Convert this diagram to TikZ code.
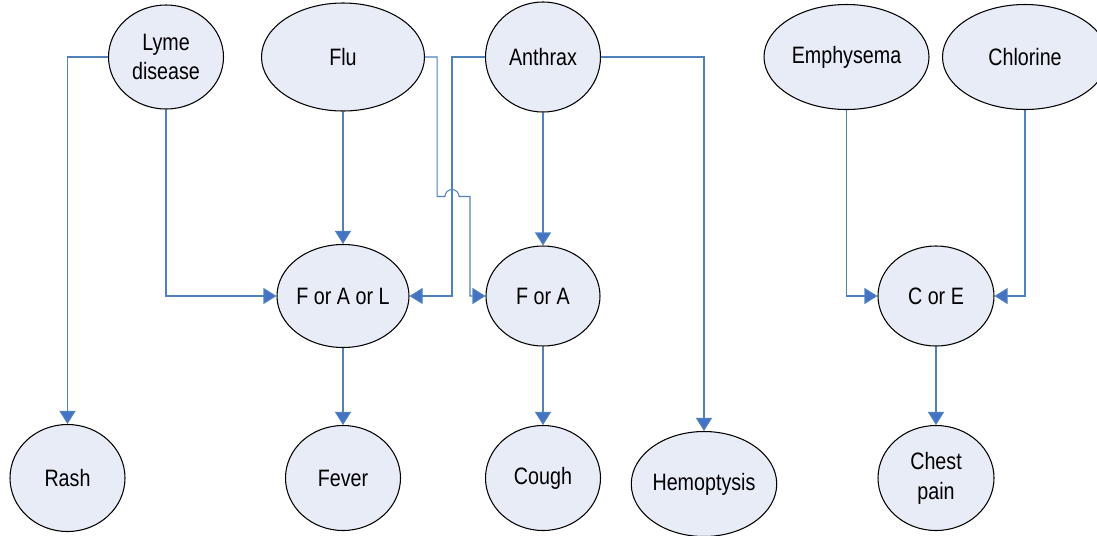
\documentclass[tikz,border=0pt]{standalone}
\usepackage{fontspec}
\setmainfont{Liberation Sans}[FakeStretch=0.83]
\usetikzlibrary{arrows.meta,shapes.geometric}

\definecolor{linkblue}{RGB}{79,129,189}
\definecolor{tipblue}{RGB}{68,114,196}
\definecolor{nodefill}{RGB}{231,236,247}

\begin{document}
\begin{tikzpicture}[>={Triangle[length=0.26cm,width=0.32cm,fill=tipblue]},
    var/.style={ellipse, draw, line width=0.6pt, fill=nodefill, inner sep=0pt, align=center,
        font=\fontsize{13.5}{17}\selectfont, minimum width=2.3cm, minimum height=2.1cm},
    link/.style={->, draw=linkblue, line width=0.6pt}]
    \useasboundingbox (0,0) rectangle (21.94,-10.7);

    % Top row: causes
    \node[var, minimum height=2.08cm] (lyme) at (3.32,-1.14) {Lyme\\disease};
    \node[var, minimum width=3.26cm, minimum height=2.16cm] (flu) at (6.86,-1.14) {Flu};
    \node[var, minimum height=2.2cm] (anthrax) at (10.86,-1.14) {Anthrax};
    \node[var, minimum width=3.3cm] (emph) at (16.93,-1.14) {Emphysema};
    \node[var, minimum width=3.3cm] (chlor) at (20.5,-1.14) {Chlorine};

    % Middle row: or-nodes
    \node[var, minimum width=2.64cm, minimum height=2.06cm] (fal) at (6.86,-5.92) {F or A or L};
    \node[var, minimum width=2.28cm, minimum height=2cm] (fa) at (10.86,-5.92) {F or A};
    \node[var, minimum width=2.32cm, minimum height=2cm] (ce) at (18.72,-5.92) {C or E};

    % Bottom row: symptoms
    \node[var, minimum height=2.14cm] (rash) at (1.35,-9.56) {Rash};
    \node[var] (fever) at (6.86,-9.56) {Fever};
    \node[var] (cough) at (10.86,-9.56) {Cough};
    \node[var, minimum width=2.84cm] (hemo) at (14.08,-9.68) {Hemoptysis};
    \node[var, minimum width=2.32cm] (chest) at (18.72,-9.56) {Chest\\pain};

    % Crossing point of the two lines between Flu and Anthrax
    \coordinate (hop) at (9.04,-3.93);

    % Lyme disease
    \draw[link] (lyme.west) -| (rash.north);
    \draw[link] (lyme.south) |- (fal.west);

    % Flu
    \draw[link] (flu) -- (fal);
    \draw[link] (flu.east) -- ++(0.24,0) |- ([xshift=-0.14cm]hop)
        arc[start angle=180, end angle=0, radius=0.14cm] -- ++(0.22,0) |- (fa.west);

    % Anthrax
    \draw[link] (anthrax.west) -| (hop) |- (fal.east);
    \draw[link] (anthrax) -- (fa);
    \draw[link] (anthrax.east) -| (hemo.north);

    % Emphysema and chlorine
    \draw[link] (emph.south) |- (ce.west);
    \draw[link] (chlor.south) |- (ce.east);

    % Or-nodes down to symptoms
    \draw[link] (fal) -- (fever);
    \draw[link] (fa) -- (cough);
    \draw[link] (ce) -- (chest);
\end{tikzpicture}
\end{document}
